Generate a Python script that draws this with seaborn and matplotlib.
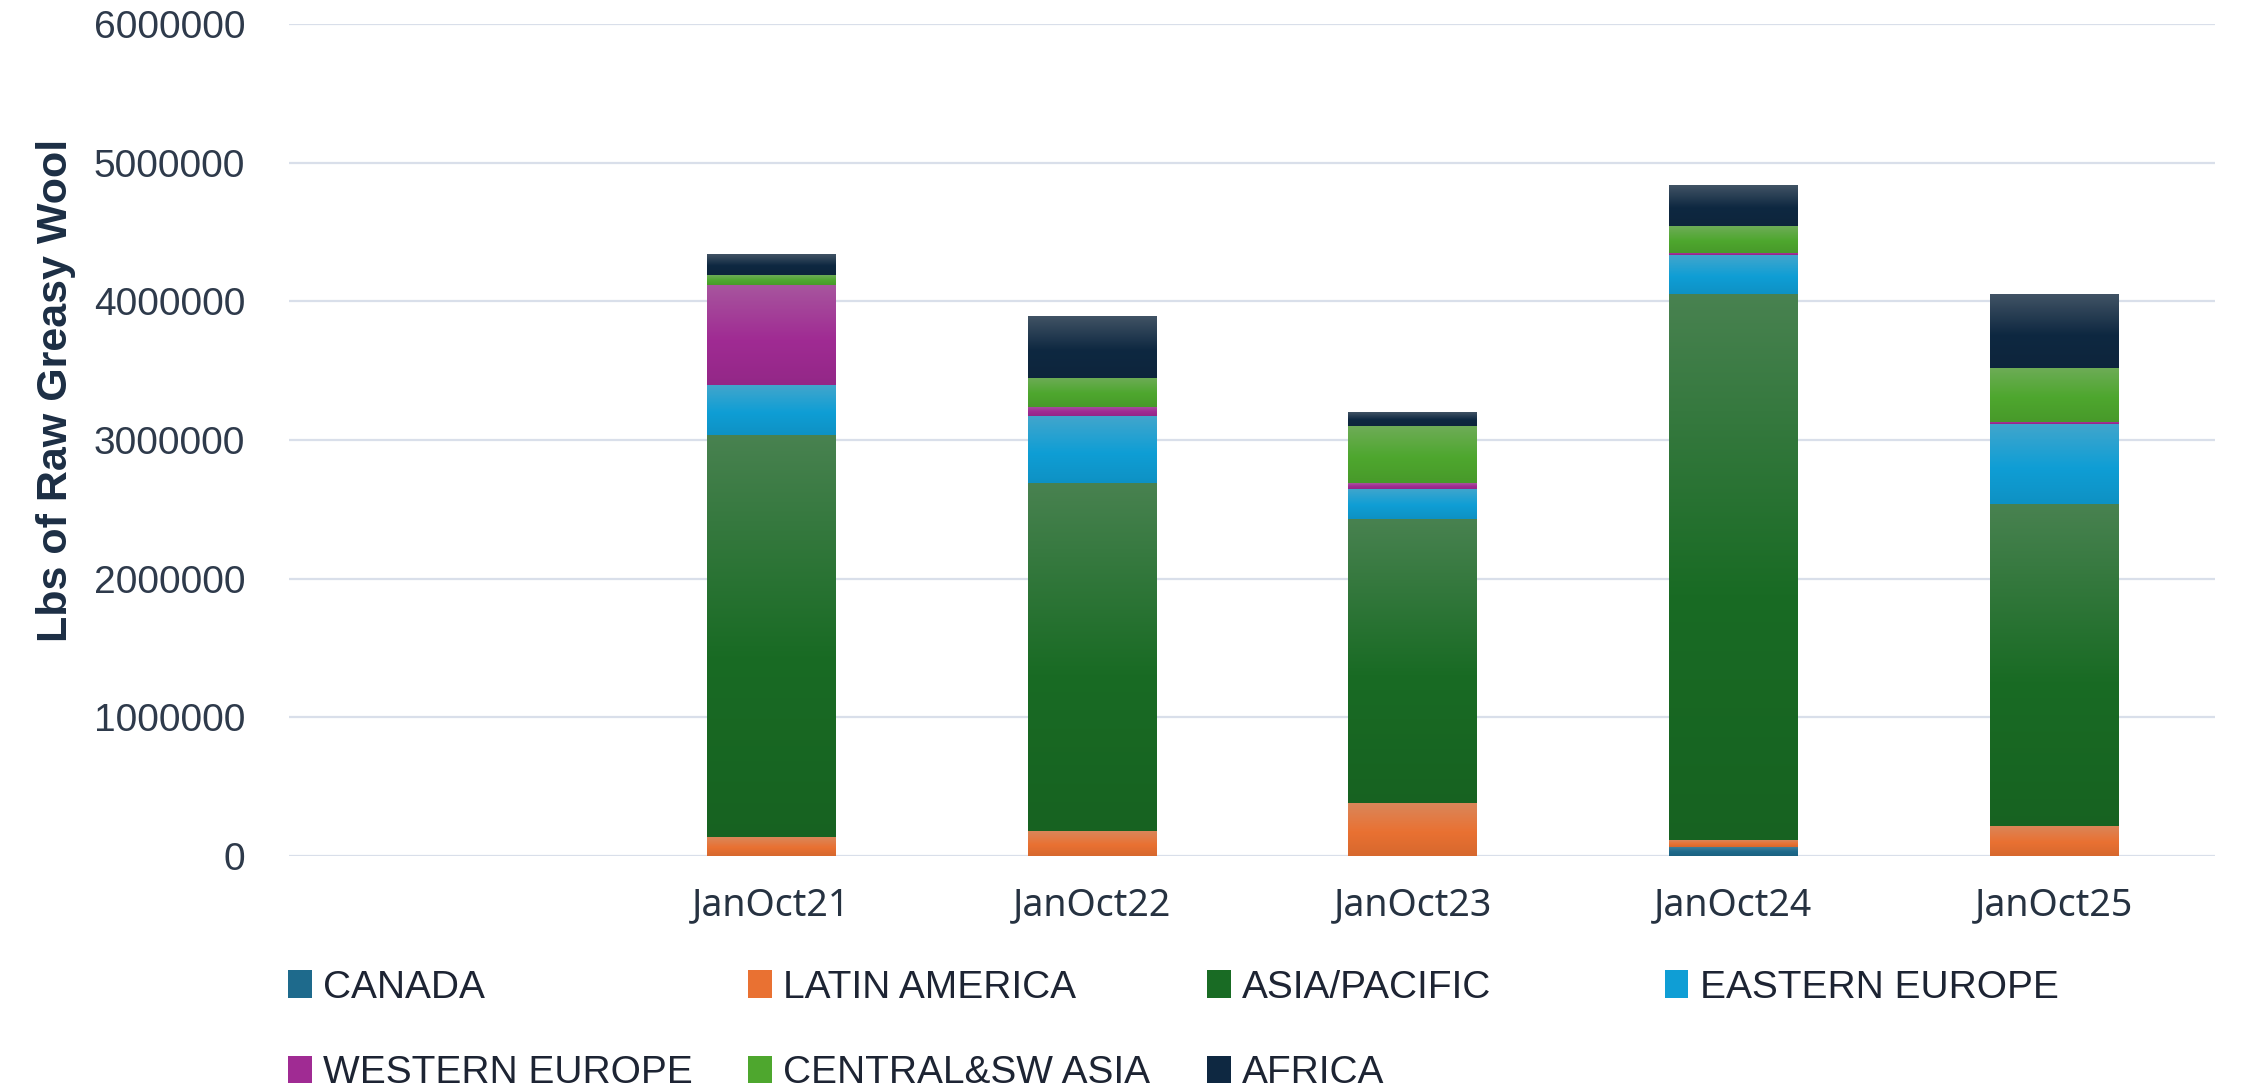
import numpy as np
import pandas as pd
import matplotlib
matplotlib.use("Agg")
import matplotlib.pyplot as plt
import matplotlib.colors as mcolors
from matplotlib.patches import Patch
from matplotlib.ticker import FuncFormatter
import seaborn as sns

# data (lbs of raw greasy wool)
periods = [" ", "JanOct21", "JanOct22", "JanOct23", "JanOct24", "JanOct25"]
regions = ["CANADA", "LATIN AMERICA", "ASIA/PACIFIC", "EASTERN EUROPE",
           "WESTERN EUROPE", "CENTRAL&SW ASIA", "AFRICA"]
canada = [0, 0, 0, 0, 66000, 0]
latin_america = [0, 135000, 180000, 380000, 50000, 217000]
asia_pacific = [0, 2905000, 2510000, 2050000, 3940000, 2320000]
eastern_europe = [0, 360000, 480000, 220000, 280000, 580000]
western_europe = [0, 720000, 70000, 40000, 16000, 15000]
central_sw_asia = [0, 70000, 210000, 410000, 190000, 390000]
africa = [0, 150000, 440000, 100000, 290000, 530000]
colors = ["#1E6A8C", "#E97132", "#196B24", "#0F9ED5", "#A02B93", "#4EA72E", "#0E2841"]

series = [canada, latin_america, asia_pacific, eastern_europe,
          western_europe, central_sw_asia, africa]
rows = []
for reg, vals in zip(regions, series):
    for per, v in zip(periods, vals):
        rows.append({"Period": per, "Region": reg, "Lbs": v})
df = pd.DataFrame(rows)
df["Period"] = pd.Categorical(df["Period"], categories=periods, ordered=True)
palette = dict(zip(regions, colors))

sns.set_theme(style="white")
plt.rcParams["font.family"] = ["Liberation Sans", "DejaVu Sans"]

fig = plt.figure(figsize=(22.44, 10.92), dpi=100)
ax = fig.add_axes([0.129, 0.216, 0.858, 0.762])

# stacked bars; seaborn stacks the first hue level on top, so reverse
sns.histplot(data=df, x="Period", hue="Region", weights="Lbs",
             hue_order=regions[::-1], palette=palette, multiple="stack",
             discrete=True, shrink=0.4, alpha=1, linewidth=0,
             legend=False, ax=ax)

# office-like vertical gradient on every segment
for bar in list(ax.patches):
    h = bar.get_height()
    if h <= 0:
        continue
    x0, y0, w = bar.get_x(), bar.get_y(), bar.get_width()
    base = np.array(mcolors.to_rgb(bar.get_facecolor()))
    dark = base * 0.92
    light = base * 0.7 + 0.3 * 0.72
    t = np.linspace(0, 1, 256)[:, None]
    lo = np.clip(t / 0.45, 0, 1)
    hi = np.clip((t - 0.45) / 0.55, 0, 1)
    col = np.where(t < 0.45, dark + (base - dark) * lo, base + (light - base) * hi)
    img = col[:, None, :] * np.ones((1, 4, 1))
    ax.imshow(img, extent=[x0, x0 + w, y0, y0 + h], origin="lower",
              aspect="auto", interpolation="bilinear", zorder=bar.get_zorder() + 0.1)

ax.set_xlim(-0.5, 5.5)
ax.set_ylim(0, 6000000)
ax.set_yticks(np.arange(0, 6000001, 1000000))
ax.yaxis.set_major_formatter(FuncFormatter(lambda v, p: f"{v:.0f}"))
ax.grid(axis="y", color="#d9dfea", linewidth=1.6)
ax.set_axisbelow(True)
for s in ax.spines.values():
    s.set_visible(False)
ax.tick_params(axis="both", length=0)
ax.tick_params(axis="y", labelsize=28, labelcolor="#2e3a4b", pad=32)
ax.tick_params(axis="x", labelsize=27, labelcolor="#263241", pad=22)
for lab in ax.get_xticklabels():
    lab.set_family(["Noto Sans", "DejaVu Sans"])

ax.set_xlabel("")
ax.set_ylabel("Lbs of Raw Greasy Wool", fontsize=31, fontweight="bold",
              color="#1c2e44")
ax.yaxis.set_label_coords(-0.111, 0.56)

# legend laid out as four evenly spaced columns, filled row by row
handles = {r: Patch(facecolor=c, edgecolor="none") for r, c in palette.items()}
columns = [["CANADA", "WESTERN EUROPE"], ["LATIN AMERICA", "CENTRAL&SW ASIA"],
           ["ASIA/PACIFIC", "AFRICA"], ["EASTERN EUROPE"]]
col_x = [0.1285, 0.3335, 0.538, 0.742]
for names, xpos in zip(columns, col_x):
    leg = fig.legend([handles[n] for n in names], names, loc="upper left",
                     bbox_to_anchor=(xpos, 0.112), frameon=False, fontsize=28,
                     handlelength=0.6, handleheight=0.7, handletextpad=0.3,
                     labelspacing=1.28, borderpad=0, borderaxespad=0)
    for txt in leg.get_texts():
        txt.set_color("#1d2433")

fig.savefig("out.png", dpi=100)
